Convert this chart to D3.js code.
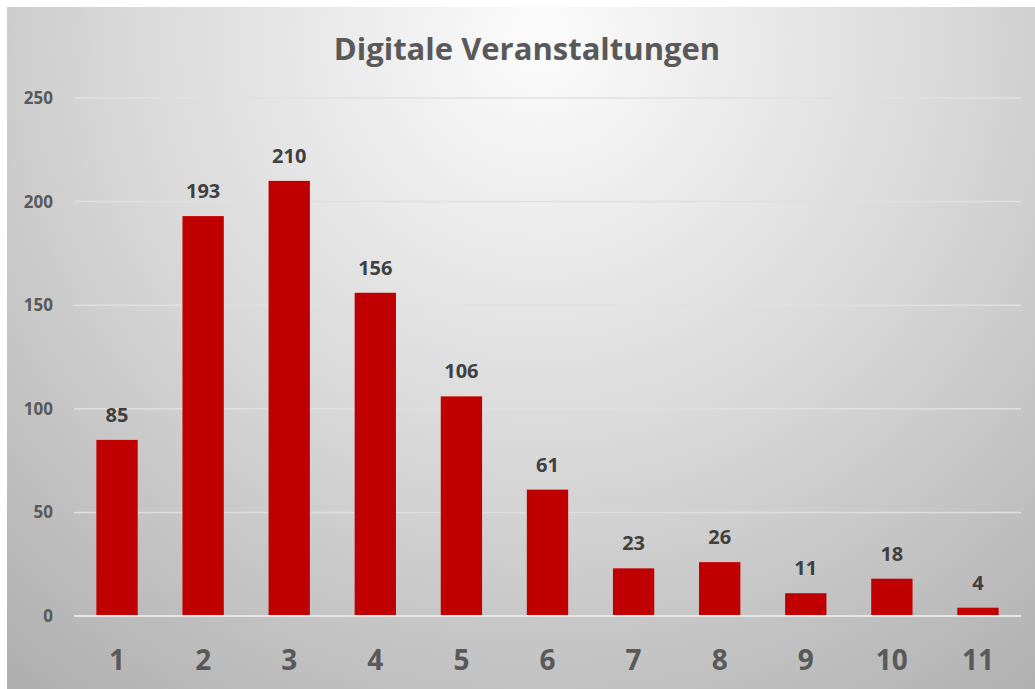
<!DOCTYPE html>
<html>
<head>
<meta charset="utf-8">
<script src="https://cdn.jsdelivr.net/npm/d3@7"></script>
<style>
  body { margin: 0; background: #fff; }
  svg { display: block; font-family: "Open Sans", sans-serif; }
</style>
</head>
<body>
<div id="chart"></div>
<script>
// data
const categories = ["1", "2", "3", "4", "5", "6", "7", "8", "9", "10", "11"];
const values = [85, 193, 210, 156, 106, 61, 23, 26, 11, 18, 4];
const yTicks = [0, 50, 100, 150, 200, 250];
const title = "Digitale Veranstaltungen";

var W = 1035, H = 689;
var svg = d3.select("#chart").append("svg")
    .attr("width", W)
    .attr("height", H);

// background gradient like the office chart style
var defs = svg.append("defs");
var grad = defs.append("radialGradient")
    .attr("id", "bg")
    .attr("gradientUnits", "userSpaceOnUse")
    .attr("cx", 540).attr("cy", 40).attr("r", 820);
grad.append("stop").attr("offset", "0%").attr("stop-color", "#fcfcfc");
grad.append("stop").attr("offset", "50%").attr("stop-color", "#d9d9d9");
grad.append("stop").attr("offset", "100%").attr("stop-color", "#b0b0b0");

svg.append("rect")
    .attr("x", 7).attr("y", 7)
    .attr("width", W - 7).attr("height", H - 7)
    .attr("fill", "url(#bg)");

var margin = {top: 98, right: 14, bottom: 73, left: 74};
var width = W - margin.left - margin.right,
    height = H - margin.top - margin.bottom;

var g = svg.append("g")
    .attr("transform", "translate(" + margin.left + "," + margin.top + ")");

var x = d3.scaleBand()
    .domain(categories)
    .range([0, width])
    .paddingInner(0.52)
    .paddingOuter(0.26);

var y = d3.scaleLinear()
    .domain([0, 250])
    .range([height, 0]);

// gridlines
g.selectAll(".grid")
    .data(yTicks.filter(d => d > 0))
    .join("line")
    .attr("class", "grid")
    .attr("x1", 0).attr("x2", width)
    .attr("y1", d => y(d)).attr("y2", d => y(d))
    .attr("stroke", "#e0e0e0")
    .attr("stroke-width", 1.5);

// y axis labels
var yAxis = g.append("g")
    .call(d3.axisLeft(y).tickValues(yTicks).tickSize(0).tickPadding(21));
yAxis.select(".domain").remove();
yAxis.selectAll("text")
    .attr("fill", "#595959")
    .attr("font-size", "17px")
    .attr("font-weight", "bold")
    .attr("font-family", "'Open Sans', sans-serif");

// bars
g.selectAll(".bar")
    .data(values)
    .join("rect")
    .attr("class", "bar")
    .attr("x", (d, i) => x(categories[i]))
    .attr("y", d => y(d))
    .attr("width", x.bandwidth())
    .attr("height", d => height - y(d))
    .attr("fill", "#c00000");

// baseline
g.append("line")
    .attr("x1", 0).attr("x2", width)
    .attr("y1", y(0)).attr("y2", y(0))
    .attr("stroke", "#e6e6e6")
    .attr("stroke-width", 2);

// value labels
g.selectAll(".val")
    .data(values)
    .join("text")
    .attr("class", "val")
    .attr("x", (d, i) => x(categories[i]) + x.bandwidth() / 2)
    .attr("y", d => y(d) - 18)
    .attr("text-anchor", "middle")
    .attr("fill", "#404040")
    .attr("font-size", "20px")
    .attr("font-weight", "bold")
    .text(d => d);

// x axis labels
var xAxis = g.append("g")
    .attr("transform", "translate(0," + height + ")")
    .call(d3.axisBottom(x).tickSize(0).tickPadding(34));
xAxis.select(".domain").remove();
xAxis.selectAll("text")
    .attr("fill", "#595959")
    .attr("font-size", "28px")
    .attr("font-weight", "bold")
    .attr("font-family", "'Open Sans', sans-serif");

// title
svg.append("text")
    .attr("x", 527)
    .attr("y", 60)
    .attr("text-anchor", "middle")
    .attr("fill", "#595959")
    .attr("font-size", "31px")
    .attr("font-weight", "bold")
    .text(title);
</script>
</body>
</html>
